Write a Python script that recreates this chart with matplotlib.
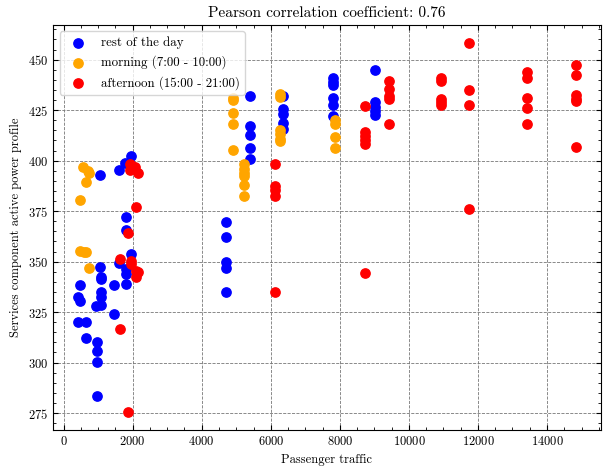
import matplotlib
matplotlib.use("Agg")
import matplotlib.pyplot as plt
from matplotlib.ticker import MultipleLocator

# ── style: serif (Computer Modern), inward ticks on all sides ─────────────
plt.rcParams["font.family"] = "serif"
plt.rcParams["font.serif"] = ["cmr10", "DejaVu Serif"]
plt.rcParams["mathtext.fontset"] = "cm"
plt.rcParams["axes.formatter.use_mathtext"] = True
plt.rcParams["font.size"] = 9
plt.rcParams["xtick.direction"] = "in"
plt.rcParams["ytick.direction"] = "in"
plt.rcParams["xtick.top"] = True
plt.rcParams["ytick.right"] = True
plt.rcParams["xtick.minor.visible"] = True
plt.rcParams["ytick.minor.visible"] = True

# ── data: passenger traffic vs services active power ──────────────────────
rest_x = [1611, 1785, 1939, 1042, 1814, 1814, 1939, 1611, 1814, 1814, 1814,
          1466, 1042, 1080, 1080, 1080, 1080, 1080, 945, 482, 415, 482, 415,
          656, 656, 965, 965, 965, 1447, 965,
          4708, 4708, 4708, 4708, 4708,
          5403, 5403, 5403, 5403, 5403,
          6349, 6349, 6349, 6349, 6349,
          7787, 7787, 7787, 7787, 7787, 7787,
          9005, 9005, 9005, 9005, 9005]
rest_y = [395.2, 399.0, 402.5, 393.1, 372.2, 365.6, 353.6, 349.2, 346.2, 343.8,
          338.8, 338.2, 347.5, 342.5, 341.5, 334.9, 332.7, 328.4, 327.8, 338.5,
          332.7, 330.3, 320.0, 320.0, 312.2, 310.0, 305.6, 300.5, 324.0, 283.2,
          369.4, 362.0, 349.7, 346.7, 334.7,
          432.2, 417.0, 412.5, 406.3, 401.0,
          432.2, 425.7, 422.9, 418.8, 415.8,
          441.0, 438.8, 437.7, 431.1, 427.8, 421.9,
          444.9, 428.9, 426.5, 424.5, 422.7]

morning_x = [560, 700, 740, 656, 473, 482, 580, 656, 733,
             4901, 4901, 4901, 4901, 4901,
             5220, 5220, 5220, 5220, 5220, 5220,
             6272, 6272, 6272, 6272, 6272, 6272,
             7865, 7865, 7865, 7865]
morning_y = [396.7, 395.0, 393.8, 389.3, 380.4, 355.4, 354.6, 354.9, 346.7,
             430.9, 430.1, 423.5, 418.1, 405.1,
             398.2, 396.1, 393.9, 392.4, 387.8, 382.6,
             433.0, 431.4, 415.3, 413.3, 410.9, 409.7,
             419.9, 418.3, 411.7, 406.2]

afternoon_x = [1930, 1978, 2055, 1930, 2151, 2103, 1852, 1621, 1949, 1949,
               2084, 2141, 2103, 1621, 1852,
               6117, 6117, 6117, 6117, 6117,
               8734, 8734, 8734, 8734, 8734, 8734,
               9430, 9430, 9430, 9430, 9430,
               10916, 10916, 10916, 10916, 10916,
               11735, 11735, 11735, 11735,
               13422, 13422, 13422, 13422, 13422,
               14838, 14838, 14838, 14838, 14838, 14838]
afternoon_y = [398.5, 397.4, 396.9, 395.2, 394.1, 376.8, 364.0, 351.2, 350.2,
               349.0, 345.5, 344.7, 342.6, 316.6, 275.7,
               398.2, 387.5, 385.4, 382.6, 334.7,
               427.3, 414.0, 412.0, 410.3, 408.4, 344.2,
               439.3, 435.5, 431.9, 430.6, 418.3,
               441.0, 439.3, 430.6, 429.0, 427.8,
               458.1, 435.2, 427.8, 376.0,
               444.1, 441.0, 431.1, 426.2, 418.3,
               447.5, 442.4, 432.4, 430.6, 429.3, 406.7]

# ── plot ──────────────────────────────────────────────────────────────────
fig = plt.figure(figsize=(6.1, 4.7), dpi=100)
ax = fig.add_axes([0.087, 0.085, 0.898, 0.862])

ax.scatter(rest_x, rest_y, s=45, color="#0000ff", label="rest of the day", zorder=3)
ax.scatter(morning_x, morning_y, s=45, color="#ffa500", label="morning (7:00 - 10:00)", zorder=3)
ax.scatter(afternoon_x, afternoon_y, s=45, color="#ff0000", label="afternoon (15:00 - 21:00)", zorder=3)

ax.xaxis.set_major_locator(MultipleLocator(2000))
ax.xaxis.set_minor_locator(MultipleLocator(500))
ax.yaxis.set_major_locator(MultipleLocator(25))
ax.yaxis.set_minor_locator(MultipleLocator(5))

ax.grid(True, which="major", linestyle="--", color="#777777", linewidth=0.6)
ax.set_axisbelow(True)

ax.set_xlabel("Passenger traffic")
ax.set_ylabel("Services component active power profile")
ax.set_title("Pearson correlation coefficient: 0.76", fontsize=11)

ax.legend(loc="upper left", frameon=True, fancybox=True, fontsize=9.3)

fig.savefig("out.png", dpi=100)
